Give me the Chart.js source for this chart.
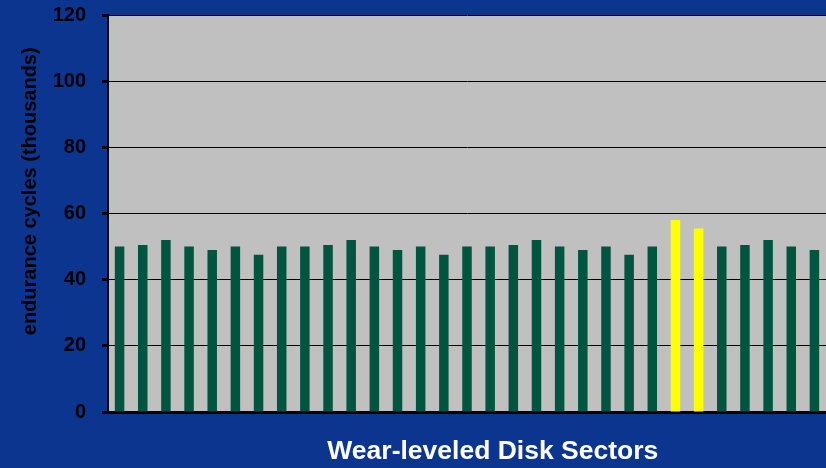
<!DOCTYPE html>
<html>
<head>
<meta charset="utf-8">
<script src="https://cdn.jsdelivr.net/npm/chart.js@4/dist/chart.umd.min.js"></script>
<style>
  html, body { margin: 0; padding: 0; background: #0c3590; overflow: hidden; }
  #wrap { width: 826px; height: 468px; }
</style>
</head>
<body>
<div id="wrap"><canvas id="wearChart" width="826" height="468"></canvas></div>
<script>
// sectors along the x axis (labels are not printed on the chart)
const sectors = ['1','2','3','4','5','6','7','8','9','10','11','12','13','14','15','16',
                 '17','18','19','20','21','22','23','24','25','26','27','28','29','30','31'];
// endurance cycles per sector, in thousands
const cycles = [50, 50.5, 52, 50, 49, 50, 47.5, 50, 50, 50.5, 52, 50, 49, 50, 47.5, 50,
                50, 50.5, 52, 50, 49, 50, 47.5, 50, 58, 55.5, 50, 50.5, 52, 50, 49];
// sectors drawn in yellow
const highlighted = ['25', '26'];
const yTicks = [0, 20, 40, 60, 80, 100, 120];

const GREEN = '#00553f';
const YELLOW = '#ffff00';
const barColors = sectors.map(s => highlighted.includes(s) ? YELLOW : GREEN);

const plotBg = {
  id: 'plotBg',
  beforeDraw(chart) {
    const {ctx, chartArea} = chart;
    ctx.save();
    ctx.fillStyle = '#0c3590';
    ctx.fillRect(0, 0, chart.width, chart.height);
    ctx.fillStyle = '#c0c0c0';
    ctx.fillRect(chartArea.left, chartArea.top, chartArea.right - chartArea.left, chartArea.bottom - chartArea.top);
    ctx.restore();
  }
};

const ctx = document.getElementById('wearChart').getContext('2d');
new Chart(ctx, {
  type: 'bar',
  data: {
    labels: sectors,
    datasets: [{
      label: 'endurance cycles',
      data: cycles,
      backgroundColor: barColors,
      borderWidth: 0,
      barPercentage: 0.41,
      categoryPercentage: 1.0
    }]
  },
  options: {
    responsive: false,
    animation: false,
    layout: { padding: { top: 15, right: 0, bottom: 0, left: 0 } },
    plugins: { legend: { display: false }, tooltip: { enabled: false } },
    scales: {
      x: {
        ticks: { display: false },
        grid: { display: false, drawTicks: false },
        border: { display: true, color: '#000', width: 3 },
        title: {
          display: true,
          text: '       Wear-leveled Disk Sectors',
          color: '#ffffff',
          font: { family: 'Liberation Sans, Arial, sans-serif', size: 26.5, weight: 'bold' },
          padding: { top: 0, bottom: 0 }
        },
        afterFit(scale) { scale.height = 56; scale.paddingLeft = 0; scale.paddingRight = 0; }
      },
      y: {
        min: 0,
        max: 120,
        afterBuildTicks(scale) { scale.ticks = yTicks.map(v => ({ value: v })); },
        ticks: {
          color: '#000',
          padding: 16,
          font: { family: 'Liberation Sans, Arial, sans-serif', size: 20, weight: 'bold' }
        },
        grid: { color: '#000', lineWidth: 1, tickLength: 6, tickWidth: 3, tickColor: '#000' },
        border: { display: true, color: '#000', width: 2 },
        title: {
          display: true,
          text: '        endurance cycles (thousands)',
          color: '#000',
          font: { family: 'Liberation Sans, Arial, sans-serif', size: 20, weight: 'bold' },
          padding: { top: 18, bottom: 0 }
        },
        afterFit(scale) { scale.width = 108; scale.paddingTop = 0; scale.paddingBottom = 0; }
      }
    }
  },
  plugins: [plotBg]
});
</script>
</body>
</html>
